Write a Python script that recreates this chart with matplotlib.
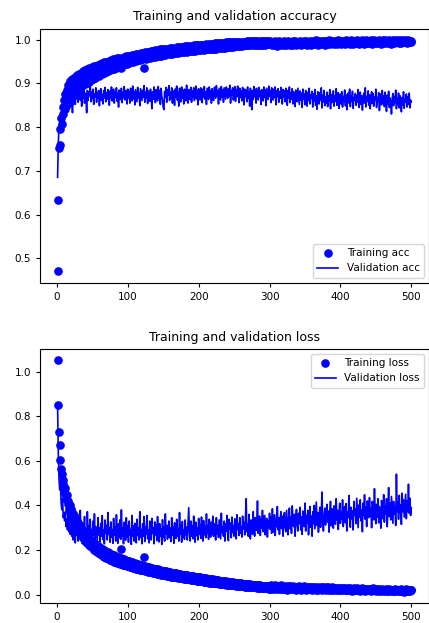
import numpy as np
import matplotlib
matplotlib.use("Agg")
import matplotlib.pyplot as plt

# per-epoch history (500 epochs)
train_acc = [
    0.470, 0.633, 0.752, 0.760, 0.795, 0.822, 0.808, 0.846, 0.830, 0.862,
    0.841, 0.875, 0.853, 0.886, 0.864, 0.897, 0.872, 0.858, 0.905, 0.880,
    0.868, 0.911, 0.889, 0.874, 0.915, 0.893, 0.882, 0.920, 0.898, 0.887,
    0.922, 0.902, 0.891, 0.925, 0.906, 0.895, 0.928, 0.909, 0.898, 0.930,
    0.912, 0.901, 0.933, 0.915, 0.904, 0.935, 0.918, 0.907, 0.937, 0.920,
    0.910, 0.939, 0.922, 0.913, 0.941, 0.925, 0.916, 0.943, 0.927, 0.918,
    0.945, 0.929, 0.921, 0.947, 0.931, 0.923, 0.949, 0.933, 0.926, 0.950,
    0.935, 0.928, 0.952, 0.937, 0.930, 0.953, 0.939, 0.932, 0.955, 0.940,
    0.934, 0.956, 0.942, 0.936, 0.958, 0.944, 0.938, 0.959, 0.945, 0.940,
    0.935, 0.947, 0.942, 0.961, 0.948, 0.944, 0.962, 0.950, 0.945, 0.963,
    0.951, 0.947, 0.964, 0.952, 0.948, 0.965, 0.954, 0.950, 0.966, 0.955,
    0.951, 0.967, 0.956, 0.953, 0.968, 0.957, 0.954, 0.969, 0.958, 0.955,
    0.970, 0.959, 0.935, 0.971, 0.960, 0.957, 0.972, 0.961, 0.958, 0.973,
    0.962, 0.959, 0.974, 0.963, 0.960, 0.975, 0.964, 0.961, 0.976, 0.965,
    0.962, 0.977, 0.966, 0.963, 0.978, 0.967, 0.964, 0.978, 0.968, 0.965,
    0.979, 0.968, 0.966, 0.980, 0.969, 0.967, 0.980, 0.970, 0.967, 0.981,
    0.971, 0.968, 0.982, 0.972, 0.969, 0.982, 0.972, 0.970, 0.983, 0.973,
    0.970, 0.983, 0.974, 0.971, 0.984, 0.974, 0.972, 0.984, 0.975, 0.972,
    0.985, 0.976, 0.973, 0.985, 0.976, 0.974, 0.986, 0.977, 0.974, 0.986,
    0.977, 0.975, 0.987, 0.978, 0.975, 0.987, 0.978, 0.976, 0.988, 0.979,
    0.976, 0.988, 0.979, 0.977, 0.989, 0.980, 0.977, 0.989, 0.980, 0.978,
    0.990, 0.981, 0.978, 0.990, 0.981, 0.979, 0.991, 0.982, 0.979, 0.991,
    0.982, 0.980, 0.992, 0.983, 0.980, 0.992, 0.983, 0.981, 0.993, 0.984,
    0.981, 0.993, 0.984, 0.982, 0.993, 0.985, 0.982, 0.994, 0.985, 0.983,
    0.994, 0.986, 0.983, 0.994, 0.986, 0.984, 0.995, 0.987, 0.984, 0.995,
    0.987, 0.985, 0.995, 0.988, 0.985, 0.996, 0.988, 0.986, 0.996, 0.988,
    0.986, 0.996, 0.989, 0.987, 0.996, 0.989, 0.987, 0.997, 0.989, 0.987,
    0.997, 0.990, 0.988, 0.997, 0.990, 0.988, 0.997, 0.990, 0.988, 0.997,
    0.991, 0.988, 0.998, 0.991, 0.989, 0.997, 0.991, 0.989, 0.998, 0.991,
    0.989, 0.998, 0.992, 0.989, 0.997, 0.992, 0.990, 0.998, 0.992, 0.990,
    0.998, 0.992, 0.987, 0.996, 0.990, 0.994, 0.988, 0.997, 0.993, 0.991,
    0.986, 0.995, 0.990, 0.998, 0.992, 0.988, 0.996, 0.991, 0.994, 0.989,
    0.997, 0.993, 0.987, 0.995, 0.991, 0.998, 0.990, 0.994, 0.988, 0.996,
    0.992, 0.989, 0.997, 0.993, 0.991, 0.998, 0.988, 0.995, 0.992, 0.996,
    0.990, 0.994, 0.998, 0.991, 0.988, 0.996, 0.993, 0.997, 0.990, 0.995,
    0.992, 0.998, 0.989, 0.994, 0.996, 0.991, 0.997, 0.993, 0.988, 0.995,
    0.998, 0.992, 0.990, 0.996, 0.994, 0.999, 0.991, 0.995, 0.989, 0.997,
    0.993, 0.996, 0.990, 0.998, 0.994, 0.992, 0.997, 0.989, 0.995, 0.998,
    0.991, 0.996, 0.993, 0.999, 0.990, 0.995, 0.997, 0.992, 0.994, 0.998,
    0.990, 0.996, 0.993, 0.997, 0.991, 0.999, 0.994, 0.992, 0.996, 0.998,
    0.991, 0.995, 0.998, 0.993, 0.997, 0.990, 0.996, 0.999, 0.994, 0.992,
    0.998, 0.995, 0.991, 0.997, 0.999, 0.993, 0.996, 0.990, 0.998, 0.995,
    0.992, 0.997, 0.999, 0.994, 0.996, 0.991, 0.998, 0.995, 0.993, 0.999,
    0.994, 0.997, 0.991, 0.998, 0.996, 0.999, 0.993, 0.995, 0.997, 0.992,
    0.998, 0.994, 0.999, 0.996, 0.991, 0.997, 0.995, 0.999, 0.993, 0.996,
    0.998, 0.992, 0.997, 0.999, 0.994, 0.996, 0.991, 0.998, 0.995, 0.999,
    0.993, 0.997, 0.999, 0.994, 0.996, 0.992, 0.998, 0.999, 0.995, 0.997,
    0.991, 0.998, 0.996, 0.999, 0.993, 0.997, 0.995, 0.999, 0.994, 0.998,
    0.996, 0.992, 0.999, 0.995, 0.997, 0.993, 0.999, 0.996, 0.998, 0.994,
    0.999, 0.995, 0.997, 0.993, 0.998, 0.999, 0.994, 0.997, 0.996, 0.998,
]

val_acc = [
    0.685, 0.760, 0.805, 0.790, 0.828, 0.812, 0.848, 0.822, 0.860, 0.838,
    0.866, 0.845, 0.873, 0.852, 0.880, 0.861, 0.874, 0.843, 0.882, 0.866,
    0.871, 0.833, 0.885, 0.860, 0.878, 0.852, 0.884, 0.868, 0.889, 0.857,
    0.876, 0.891, 0.862, 0.879, 0.848, 0.883, 0.866, 0.887, 0.855, 0.878,
    0.869, 0.833, 0.884, 0.861, 0.880, 0.872, 0.905, 0.858, 0.881, 0.865,
    0.887, 0.852, 0.876, 0.869, 0.890, 0.857, 0.880, 0.866, 0.884, 0.849,
    0.878, 0.888, 0.861, 0.875, 0.853, 0.884, 0.867, 0.891, 0.858, 0.879,
    0.864, 0.886, 0.871, 0.850, 0.883, 0.866, 0.892, 0.860, 0.877, 0.887,
    0.855, 0.881, 0.868, 0.890, 0.859, 0.878, 0.846, 0.885, 0.870, 0.863,
    0.889, 0.856, 0.880, 0.867, 0.893, 0.862, 0.876, 0.884, 0.853, 0.887,
    0.866, 0.882, 0.855, 0.889, 0.871, 0.860, 0.894, 0.865, 0.881, 0.851,
    0.886, 0.872, 0.858, 0.891, 0.867, 0.879, 0.849, 0.888, 0.874, 0.861,
    0.885, 0.868, 0.895, 0.857, 0.880, 0.866, 0.890, 0.854, 0.883, 0.870,
    0.859, 0.887, 0.873, 0.842, 0.881, 0.864, 0.892, 0.869, 0.856, 0.886,
    0.875, 0.860, 0.893, 0.866, 0.884, 0.852, 0.889, 0.871, 0.862, 0.846,
    0.840, 0.882, 0.868, 0.891, 0.857, 0.886, 0.873, 0.895, 0.861, 0.880,
    0.866, 0.890, 0.855, 0.883, 0.874, 0.850, 0.887, 0.869, 0.894, 0.862,
    0.880, 0.848, 0.889, 0.871, 0.858, 0.892, 0.866, 0.884, 0.853, 0.887,
    0.872, 0.860, 0.896, 0.868, 0.855, 0.886, 0.878, 0.863, 0.891, 0.857,
    0.883, 0.869, 0.890, 0.861, 0.879, 0.894, 0.865, 0.885, 0.851, 0.888,
    0.873, 0.862, 0.890, 0.880, 0.856, 0.887, 0.869, 0.893, 0.864, 0.881,
    0.852, 0.889, 0.876, 0.863, 0.892, 0.867, 0.884, 0.855, 0.888, 0.872,
    0.861, 0.891, 0.879, 0.866, 0.895, 0.870, 0.884, 0.853, 0.889, 0.875,
    0.862, 0.893, 0.869, 0.886, 0.857, 0.890, 0.876, 0.864, 0.892, 0.881,
    0.866, 0.888, 0.871, 0.896, 0.855, 0.884, 0.873, 0.890, 0.862, 0.880,
    0.893, 0.859, 0.886, 0.870, 0.894, 0.877, 0.856, 0.889, 0.868, 0.883,
    0.860, 0.891, 0.879, 0.851, 0.887, 0.870, 0.884, 0.858, 0.892, 0.866,
    0.881, 0.848, 0.889, 0.872, 0.840, 0.884, 0.863, 0.893, 0.869, 0.887,
    0.855, 0.889, 0.876, 0.862, 0.891, 0.870, 0.883, 0.852, 0.886, 0.874,
    0.860, 0.892, 0.868, 0.885, 0.849, 0.889, 0.876, 0.863, 0.894, 0.871,
    0.884, 0.856, 0.890, 0.873, 0.862, 0.887, 0.868, 0.892, 0.851, 0.883,
    0.870, 0.888, 0.857, 0.881, 0.866, 0.891, 0.874, 0.853, 0.886, 0.869,
    0.883, 0.858, 0.889, 0.871, 0.850, 0.884, 0.866, 0.892, 0.856, 0.879,
    0.864, 0.888, 0.853, 0.881, 0.872, 0.847, 0.885, 0.867, 0.858, 0.889,
    0.870, 0.852, 0.883, 0.862, 0.878, 0.845, 0.887, 0.865, 0.876, 0.851,
    0.884, 0.868, 0.848, 0.880, 0.861, 0.889, 0.853, 0.874, 0.866, 0.882,
    0.846, 0.876, 0.860, 0.886, 0.850, 0.872, 0.841, 0.881, 0.864, 0.853,
    0.879, 0.862, 0.890, 0.844, 0.873, 0.858, 0.884, 0.849, 0.869, 0.855,
    0.880, 0.847, 0.871, 0.860, 0.886, 0.842, 0.875, 0.856, 0.866, 0.883,
    0.848, 0.872, 0.859, 0.888, 0.850, 0.868, 0.879, 0.843, 0.864, 0.876,
    0.853, 0.881, 0.846, 0.870, 0.860, 0.885, 0.849, 0.874, 0.840, 0.866,
    0.878, 0.855, 0.887, 0.847, 0.871, 0.859, 0.882, 0.843, 0.868, 0.862,
    0.877, 0.850, 0.873, 0.857, 0.886, 0.845, 0.866, 0.880, 0.852, 0.872,
    0.839, 0.864, 0.878, 0.855, 0.890, 0.846, 0.870, 0.859, 0.883, 0.850,
    0.874, 0.842, 0.866, 0.881, 0.854, 0.877, 0.848, 0.869, 0.861, 0.887,
    0.845, 0.868, 0.857, 0.879, 0.838, 0.865, 0.876, 0.851, 0.884, 0.856,
    0.871, 0.847, 0.880, 0.860, 0.836, 0.873, 0.853, 0.882, 0.845, 0.867,
    0.858, 0.830, 0.864, 0.877, 0.849, 0.870, 0.856, 0.885, 0.842, 0.866,
    0.852, 0.878, 0.844, 0.872, 0.860, 0.835, 0.868, 0.850, 0.881, 0.843,
    0.865, 0.857, 0.876, 0.846, 0.870, 0.852, 0.878, 0.844, 0.862, 0.858,
]

train_loss = [
    1.050, 0.852, 0.728, 0.672, 0.605, 0.565, 0.540, 0.498, 0.512, 0.470,
    0.452, 0.476, 0.428, 0.445, 0.405, 0.422, 0.384, 0.401, 0.366, 0.385,
    0.345, 0.372, 0.330, 0.358, 0.318, 0.342, 0.305, 0.331, 0.292, 0.320,
    0.283, 0.310, 0.272, 0.298, 0.262, 0.289, 0.254, 0.280, 0.246, 0.272,
    0.238, 0.265, 0.231, 0.258, 0.224, 0.251, 0.218, 0.245, 0.212, 0.239,
    0.207, 0.233, 0.201, 0.228, 0.196, 0.222, 0.191, 0.217, 0.186, 0.213,
    0.182, 0.208, 0.178, 0.204, 0.174, 0.200, 0.170, 0.196, 0.166, 0.192,
    0.163, 0.189, 0.160, 0.185, 0.157, 0.182, 0.154, 0.179, 0.151, 0.176,
    0.148, 0.173, 0.146, 0.170, 0.143, 0.168, 0.141, 0.165, 0.139, 0.163,
    0.205, 0.160, 0.135, 0.158, 0.133, 0.156, 0.131, 0.153, 0.129, 0.151,
    0.127, 0.149, 0.125, 0.147, 0.123, 0.145, 0.121, 0.143, 0.119, 0.141,
    0.117, 0.139, 0.116, 0.137, 0.114, 0.135, 0.112, 0.133, 0.111, 0.131,
    0.109, 0.129, 0.168, 0.127, 0.107, 0.125, 0.105, 0.124, 0.103, 0.122,
    0.102, 0.120, 0.100, 0.119, 0.099, 0.117, 0.097, 0.116, 0.096, 0.114,
    0.094, 0.113, 0.093, 0.111, 0.092, 0.110, 0.090, 0.108, 0.089, 0.107,
    0.088, 0.105, 0.086, 0.104, 0.085, 0.103, 0.084, 0.101, 0.083, 0.100,
    0.081, 0.099, 0.080, 0.097, 0.079, 0.096, 0.078, 0.095, 0.077, 0.094,
    0.076, 0.092, 0.075, 0.091, 0.074, 0.090, 0.073, 0.089, 0.072, 0.088,
    0.071, 0.087, 0.070, 0.086, 0.069, 0.085, 0.068, 0.084, 0.067, 0.083,
    0.066, 0.082, 0.065, 0.081, 0.064, 0.080, 0.063, 0.079, 0.062, 0.078,
    0.061, 0.077, 0.060, 0.076, 0.059, 0.075, 0.058, 0.074, 0.057, 0.073,
    0.056, 0.072, 0.055, 0.071, 0.054, 0.070, 0.054, 0.069, 0.053, 0.068,
    0.052, 0.067, 0.051, 0.066, 0.050, 0.065, 0.050, 0.064, 0.049, 0.063,
    0.048, 0.062, 0.047, 0.061, 0.047, 0.060, 0.046, 0.059, 0.045, 0.058,
    0.044, 0.057, 0.044, 0.056, 0.043, 0.056, 0.042, 0.055, 0.042, 0.054,
    0.041, 0.053, 0.040, 0.052, 0.040, 0.052, 0.039, 0.051, 0.038, 0.050,
    0.038, 0.049, 0.037, 0.049, 0.036, 0.048, 0.036, 0.047, 0.035, 0.046,
    0.035, 0.046, 0.034, 0.045, 0.033, 0.044, 0.033, 0.044, 0.032, 0.043,
    0.032, 0.042, 0.031, 0.042, 0.031, 0.041, 0.030, 0.040, 0.030, 0.040,
    0.029, 0.039, 0.029, 0.038, 0.028, 0.038, 0.028, 0.037, 0.027, 0.037,
    0.027, 0.041, 0.032, 0.025, 0.038, 0.030, 0.043, 0.026, 0.035, 0.029,
    0.040, 0.024, 0.033, 0.037, 0.027, 0.042, 0.030, 0.025, 0.036, 0.031,
    0.026, 0.039, 0.029, 0.034, 0.023, 0.038, 0.031, 0.027, 0.040, 0.025,
    0.033, 0.028, 0.037, 0.024, 0.035, 0.030, 0.022, 0.036, 0.029, 0.033,
    0.025, 0.038, 0.028, 0.032, 0.023, 0.035, 0.030, 0.026, 0.037, 0.027,
    0.031, 0.022, 0.034, 0.029, 0.036, 0.024, 0.030, 0.027, 0.035, 0.021,
    0.032, 0.026, 0.029, 0.034, 0.023, 0.031, 0.027, 0.036, 0.022, 0.030,
    0.025, 0.033, 0.028, 0.021, 0.032, 0.026, 0.030, 0.024, 0.034, 0.022,
    0.029, 0.025, 0.032, 0.020, 0.030, 0.027, 0.023, 0.033, 0.026, 0.021,
    0.031, 0.024, 0.028, 0.022, 0.030, 0.025, 0.019, 0.029, 0.026, 0.023,
    0.028, 0.021, 0.030, 0.024, 0.027, 0.019, 0.029, 0.023, 0.026, 0.020,
    0.028, 0.022, 0.025, 0.030, 0.021, 0.027, 0.018, 0.025, 0.029, 0.022,
    0.026, 0.019, 0.028, 0.023, 0.025, 0.020, 0.027, 0.017, 0.024, 0.022,
    0.029, 0.020, 0.025, 0.018, 0.026, 0.023, 0.021, 0.027, 0.019, 0.024,
    0.021, 0.026, 0.017, 0.023, 0.020, 0.028, 0.019, 0.024, 0.022, 0.016,
    0.025, 0.020, 0.023, 0.018, 0.026, 0.021, 0.017, 0.024, 0.019, 0.022,
    0.016, 0.023, 0.020, 0.025, 0.018, 0.021, 0.015, 0.024, 0.019, 0.022,
    0.017, 0.023, 0.020, 0.015, 0.022, 0.018, 0.024, 0.016, 0.021, 0.019,
    0.023, 0.015, 0.020, 0.018, 0.025, 0.016, 0.021, 0.019, 0.014, 0.022,
    0.018, 0.024, 0.016, 0.020, 0.015, 0.022, 0.019, 0.017, 0.023, 0.020,
]

val_loss = [
    0.850, 0.640, 0.520, 0.470, 0.505, 0.410, 0.380, 0.430, 0.345, 0.365,
    0.330, 0.372, 0.305, 0.340, 0.290, 0.356, 0.282, 0.318, 0.270, 0.335,
    0.262, 0.310, 0.245, 0.348, 0.275, 0.232, 0.322, 0.268, 0.295, 0.240,
    0.340, 0.262, 0.378, 0.255, 0.300, 0.228, 0.318, 0.272, 0.350, 0.245,
    0.295, 0.230, 0.372, 0.268, 0.310, 0.242, 0.338, 0.260, 0.292, 0.225,
    0.330, 0.265, 0.362, 0.250, 0.305, 0.272, 0.240, 0.345, 0.268, 0.298,
    0.236, 0.320, 0.262, 0.355, 0.248, 0.290, 0.228, 0.335, 0.275, 0.310,
    0.245, 0.368, 0.270, 0.300, 0.235, 0.326, 0.258, 0.292, 0.230, 0.342,
    0.266, 0.305, 0.240, 0.358, 0.272, 0.230, 0.318, 0.256, 0.335, 0.248,
    0.380, 0.262, 0.298, 0.228, 0.325, 0.270, 0.244, 0.345, 0.258, 0.310,
    0.235, 0.330, 0.268, 0.292, 0.225, 0.355, 0.262, 0.308, 0.240, 0.320,
    0.270, 0.232, 0.338, 0.265, 0.300, 0.245, 0.372, 0.258, 0.292, 0.228,
    0.318, 0.262, 0.350, 0.238, 0.305, 0.270, 0.355, 0.250, 0.290, 0.232,
    0.330, 0.264, 0.245, 0.342, 0.275, 0.300, 0.228, 0.326, 0.268, 0.312,
    0.242, 0.350, 0.270, 0.236, 0.318, 0.262, 0.295, 0.225, 0.336, 0.258,
    0.302, 0.240, 0.362, 0.272, 0.310, 0.248, 0.285, 0.330, 0.255, 0.298,
    0.238, 0.345, 0.266, 0.305, 0.230, 0.322, 0.275, 0.252, 0.338, 0.262,
    0.296, 0.240, 0.368, 0.270, 0.312, 0.235, 0.328, 0.258, 0.290, 0.248,
    0.335, 0.268, 0.302, 0.245, 0.320, 0.390, 0.275, 0.240, 0.330, 0.262,
    0.310, 0.250, 0.352, 0.278, 0.235, 0.325, 0.265, 0.300, 0.245, 0.342,
    0.270, 0.315, 0.252, 0.348, 0.280, 0.240, 0.332, 0.268, 0.305, 0.255,
    0.362, 0.275, 0.310, 0.248, 0.338, 0.282, 0.258, 0.325, 0.270, 0.352,
    0.262, 0.318, 0.285, 0.245, 0.345, 0.272, 0.310, 0.256, 0.335, 0.290,
    0.250, 0.365, 0.278, 0.305, 0.262, 0.330, 0.240, 0.318, 0.285, 0.355,
    0.268, 0.242, 0.338, 0.295, 0.320, 0.255, 0.348, 0.278, 0.310, 0.262,
    0.340, 0.285, 0.250, 0.358, 0.292, 0.318, 0.265, 0.345, 0.275, 0.305,
    0.258, 0.352, 0.295, 0.325, 0.268, 0.340, 0.430, 0.282, 0.315, 0.262,
    0.360, 0.290, 0.250, 0.335, 0.305, 0.270, 0.372, 0.298, 0.262, 0.345,
    0.288, 0.318, 0.420, 0.275, 0.330, 0.352, 0.265, 0.340, 0.298, 0.378,
    0.282, 0.325, 0.355, 0.268, 0.315, 0.342, 0.258, 0.330, 0.300, 0.365,
    0.292, 0.348, 0.275, 0.385, 0.318, 0.280, 0.358, 0.265, 0.340, 0.305,
    0.395, 0.290, 0.345, 0.270, 0.330, 0.372, 0.296, 0.352, 0.262, 0.338,
    0.368, 0.300, 0.282, 0.378, 0.325, 0.268, 0.342, 0.388, 0.295, 0.350,
    0.275, 0.398, 0.330, 0.305, 0.360, 0.262, 0.345, 0.382, 0.310, 0.285,
    0.365, 0.318, 0.392, 0.290, 0.348, 0.270, 0.375, 0.330, 0.305, 0.410,
    0.285, 0.355, 0.320, 0.378, 0.268, 0.340, 0.395, 0.302, 0.352, 0.262,
    0.372, 0.318, 0.400, 0.295, 0.355, 0.415, 0.310, 0.368, 0.280, 0.345,
    0.392, 0.302, 0.362, 0.460, 0.330, 0.285, 0.350, 0.388, 0.312, 0.370,
    0.405, 0.325, 0.375, 0.280, 0.360, 0.418, 0.308, 0.385, 0.345, 0.298,
    0.398, 0.352, 0.315, 0.430, 0.335, 0.378, 0.292, 0.362, 0.410, 0.320,
    0.372, 0.338, 0.425, 0.305, 0.360, 0.395, 0.322, 0.408, 0.285, 0.370,
    0.345, 0.445, 0.352, 0.302, 0.392, 0.340, 0.375, 0.290, 0.418, 0.355,
    0.385, 0.318, 0.432, 0.365, 0.300, 0.402, 0.348, 0.425, 0.330, 0.380,
    0.282, 0.410, 0.355, 0.448, 0.338, 0.392, 0.305, 0.420, 0.362, 0.345,
    0.435, 0.352, 0.388, 0.300, 0.418, 0.368, 0.335, 0.475, 0.372, 0.318,
    0.405, 0.348, 0.430, 0.322, 0.395, 0.360, 0.298, 0.422, 0.375, 0.340,
    0.448, 0.325, 0.398, 0.362, 0.430, 0.305, 0.385, 0.480, 0.350, 0.412,
    0.335, 0.440, 0.375, 0.320, 0.418, 0.362, 0.395, 0.310, 0.540, 0.372,
    0.415, 0.338, 0.445, 0.365, 0.402, 0.315, 0.455, 0.372, 0.425, 0.348,
    0.398, 0.450, 0.340, 0.420, 0.372, 0.495, 0.365, 0.432, 0.355, 0.390,
]


def epochs_for(values):
    return np.arange(1, len(values) + 1)


fig = plt.figure(figsize=(4.29, 6.23), dpi=100)
ax_acc = fig.add_axes([0.093, 0.546, 0.907, 0.408])
ax_loss = fig.add_axes([0.093, 0.032, 0.907, 0.408])

ax_acc.plot(epochs_for(train_acc), train_acc, 'bo', markersize=5.2, label='Training acc')
ax_acc.plot(epochs_for(val_acc), val_acc, 'b', linewidth=1.2, label='Validation acc')
ax_acc.set_title('Training and validation accuracy', fontsize=9)
ax_acc.legend(loc='lower right', fontsize=7.5)

ax_loss.plot(epochs_for(train_loss), train_loss, 'bo', markersize=5.2, label='Training loss')
ax_loss.plot(epochs_for(val_loss), val_loss, 'b', linewidth=1.2, label='Validation loss')
ax_loss.set_title('Training and validation loss', fontsize=9)
ax_loss.legend(loc='upper right', fontsize=7.5)

for ax in (ax_acc, ax_loss):
    ax.tick_params(labelsize=7.5, length=3)

fig.savefig('out.png', dpi=100)
